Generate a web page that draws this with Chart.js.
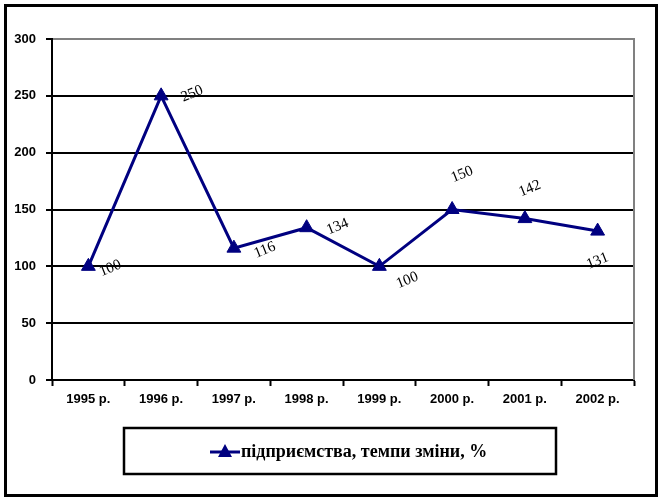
<!DOCTYPE html>
<html>
<head>
<meta charset="utf-8">
<script src="https://cdn.jsdelivr.net/npm/chart.js@4/dist/chart.umd.min.js"></script>
<style>
  html, body { margin: 0; padding: 0; background: #ffffff; }
  #wrap { width: 661px; height: 501px; }
</style>
</head>
<body>
<div id="wrap"><canvas id="c" width="661" height="501"></canvas></div>
<script>
// ---- data ----
const categories = ["1995 р.", "1996 р.", "1997 р.", "1998 р.", "1999 р.", "2000 р.", "2001 р.", "2002 р."];
const seriesName = "підприємства, темпи зміни, %";
const seriesValues = [100, 250, 116, 134, 100, 150, 142, 131];
const yTicks = [0, 50, 100, 150, 200, 250, 300];

// ---- label placement (pixel offsets from each point) ----
const labelOffsets = [[22, 2], [31, -2], [31, 2], [31, -1], [28, 14], [10, -35], [5, -30], [0, 30]];

const NAVY = '#000080';

const decorPlugin = {
  id: 'decor',
  afterDraw(chart) {
    const ctx = chart.ctx;
    const a = chart.chartArea;
    ctx.save();
    // right border of plot area (gray)
    ctx.strokeStyle = '#808080';
    ctx.lineWidth = 2;
    ctx.beginPath();
    ctx.moveTo(a.right, a.top - 1);
    ctx.lineTo(a.right, a.bottom);
    ctx.stroke();

    // data labels
    const meta = chart.getDatasetMeta(0);
    ctx.fillStyle = '#000';
    ctx.font = '15px "Liberation Serif", "Times New Roman", serif';
    ctx.textAlign = 'center';
    ctx.textBaseline = 'middle';
    meta.data.forEach((pt, i) => {
      const off = labelOffsets[i];
      ctx.save();
      ctx.translate(pt.x + off[0], pt.y + off[1]);
      ctx.rotate(-22 * Math.PI / 180);
      ctx.fillText(String(seriesValues[i]), 0, 0);
      ctx.restore();
    });

    // legend box
    ctx.strokeStyle = '#000';
    ctx.lineWidth = 2.5;
    ctx.strokeRect(124, 428, 432, 46);
    // legend marker
    ctx.strokeStyle = NAVY;
    ctx.lineWidth = 3;
    ctx.beginPath();
    ctx.moveTo(210, 452);
    ctx.lineTo(240, 452);
    ctx.stroke();
    ctx.fillStyle = NAVY;
    ctx.beginPath();
    ctx.moveTo(225, 444);
    ctx.lineTo(232, 457);
    ctx.lineTo(218, 457);
    ctx.closePath();
    ctx.fill();
    // legend text
    ctx.fillStyle = '#000';
    ctx.font = 'bold 18px "Liberation Serif", "Times New Roman", serif';
    ctx.textAlign = 'left';
    ctx.textBaseline = 'middle';
    ctx.fillText(seriesName, 241, 452);

    // outer frame
    ctx.strokeStyle = '#000';
    ctx.lineWidth = 3;
    ctx.strokeRect(5.5, 5.5, 651, 490);
    ctx.restore();
  }
};

new Chart(document.getElementById('c'), {
  type: 'line',
  data: {
    labels: categories,
    datasets: [{
      label: seriesName,
      data: seriesValues,
      borderColor: NAVY,
      backgroundColor: NAVY,
      borderWidth: 3,
      pointStyle: 'triangle',
      pointRadius: 8,
      pointHoverRadius: 8,
      pointBackgroundColor: NAVY,
      pointBorderColor: NAVY,
      pointBorderWidth: 1,
      tension: 0,
      fill: false
    }]
  },
  options: {
    responsive: false,
    animation: false,
    events: [],
    layout: { padding: { left: 0, right: 27, top: 39, bottom: 91 } },
    plugins: {
      legend: { display: false },
      tooltip: { enabled: false },
      title: { display: false }
    },
    scales: {
      x: {
        type: 'category',
        offset: true,
        grid: {
          offset: true,
          drawOnChartArea: false,
          drawTicks: true,
          tickLength: 6,
          tickWidth: 2,
          tickColor: '#000'
        },
        border: { display: true, color: '#000', width: 2 },
        ticks: {
          color: '#000',
          font: { family: '"Liberation Sans", Arial, sans-serif', size: 13, weight: 'bold' },
          padding: 6,
          maxRotation: 0,
          autoSkip: false
        },
        afterFit(scale) { scale.height = 30; }
      },
      y: {
        min: 0,
        max: 300,
        afterBuildTicks(scale) { scale.ticks = yTicks.map(v => ({ value: v })); },
        grid: {
          color: (c) => (c.tick && c.tick.value === 300) ? '#808080' : '#000',
          lineWidth: 2,
          drawTicks: true,
          tickLength: 6,
          tickWidth: 2,
          tickColor: '#000'
        },
        border: { display: true, color: '#000', width: 2 },
        ticks: {
          color: '#000',
          font: { family: '"Liberation Sans", Arial, sans-serif', size: 13, weight: 'bold' },
          padding: 10
        },
        afterFit(scale) { scale.width = 52; }
      }
    }
  },
  plugins: [decorPlugin]
});
</script>
</body>
</html>
